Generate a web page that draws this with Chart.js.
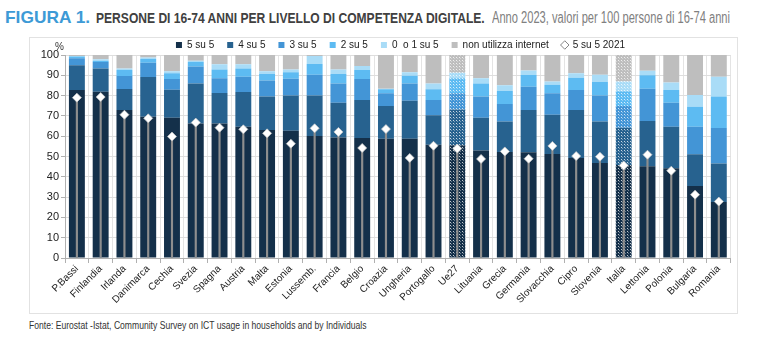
<!DOCTYPE html>
<html><head><meta charset="utf-8">
<script src="https://cdn.jsdelivr.net/npm/chart.js@4.4.1/dist/chart.umd.min.js"></script>
<style>
html,body{margin:0;padding:0;background:#fff;width:768px;height:340px;overflow:hidden;}
.t{position:absolute;top:9px;white-space:nowrap;line-height:18px;transform-origin:0 50%;font-family:"Liberation Sans",Arial,sans-serif;}
#fig{left:5px;color:#3d9ad6;font-weight:bold;font-size:17px;transform:scaleX(1.02);}
#main{left:96px;color:#404040;font-weight:bold;font-size:15px;transform:scaleX(0.805);}
#sub{left:492px;color:#808080;font-size:16px;transform:scaleX(0.695);}
#frame{position:absolute;left:29px;top:37px;width:707px;height:275px;border:1px solid #e2e2e2;}
#wrap{position:absolute;left:30px;top:27px;width:706px;height:285px;}
#pct{position:absolute;left:55px;top:41px;font-family:"Liberation Sans",Arial,sans-serif;font-size:10px;color:#333;}
#src{position:absolute;left:29px;top:319px;font-family:"Liberation Sans",Arial,sans-serif;font-size:11px;color:#333;white-space:nowrap;transform-origin:0 50%;transform:scaleX(0.78);}
</style></head>
<body>
<div class="t" id="fig">FIGURA 1.</div>
<div class="t" id="main">PERSONE DI 16-74 ANNI PER LIVELLO DI COMPETENZA DIGITALE.</div>
<div class="t" id="sub">Anno 2023, valori per 100 persone di 16-74 anni</div>
<div id="frame"></div>
<div id="wrap"><canvas id="c"></canvas></div>
<div id="pct">%</div>
<div id="src">Fonte: Eurostat -Istat, Community Survey on ICT usage in households and by Individuals</div>
<script>
const categories = ["P.Bassi","Finlandia","Irlanda","Danimarca","Cechia","Svezia","Spagna","Austria","Malta","Estonia","Lussemb.","Francia","Belgio","Croazia","Ungheria","Portogallo","Ue27","Lituania","Grecia","Germania","Slovacchia","Cipro","Slovenia","Italia","Lettonia","Polonia","Bulgaria","Romania"];
const su5_5 = [82.8,81.9,72.9,69.6,69.1,66.3,66.2,64.7,63.1,62.7,60.1,59.4,59.1,58.8,58.8,55.8,55.6,52.9,52.2,52.1,51.2,49.3,46.8,45.8,45.2,44.2,35.5,27.6];
const su5_4 = [12.1,11.4,10.4,19.6,13.8,19.7,15.1,17.1,16.5,17.4,20.0,17.1,18.7,16.1,18.7,14.5,17.6,16.2,15.1,20.8,19.4,23.6,20.5,18.4,22.3,20.5,15.6,18.9];
const su5_3 = [3.5,3.3,6.4,7.0,5.3,8.3,7.2,7.5,7.8,8.2,10.2,9.4,10.4,6.2,8.5,7.5,7.9,10.4,8.6,11.5,10.5,9.9,12.8,10.7,15.9,11.8,13.6,17.5];
const su5_2 = [0.8,0.6,2.9,1.8,2.8,2.3,4.4,4.1,3.2,3.2,5.3,4.7,4.4,2.0,3.8,5.3,7.4,6.4,6.4,5.7,4.3,6.0,6.6,7.2,6.6,6.3,9.8,15.5];
const su5_01 = [0.3,0.7,0.7,0.8,1.0,0.6,2.5,2.0,1.4,1.4,3.9,2.3,2.0,0.3,1.7,2.8,2.8,2.6,2.8,2.3,1.6,2.2,3.6,4.8,2.3,3.7,5.8,9.8];
const nonInternet = [0.5,2.1,6.7,1.2,8.0,2.8,4.6,4.6,8.0,7.1,0.5,7.1,5.4,16.6,8.5,14.1,8.7,11.5,14.9,7.6,13.0,9.0,9.7,13.1,7.7,13.5,19.7,10.7];
const su5_5_2021 = [79.0,79.3,70.6,68.8,59.8,66.7,64.2,63.4,61.4,56.3,63.9,62.1,54.2,63.5,49.3,55.3,53.9,48.8,52.5,48.9,55.2,50.2,49.9,45.6,50.9,43.0,31.2,27.8];
const patterned = ["Ue27","Italia"];
const yTicks = [0,10,20,30,40,50,60,70,80,90,100];

const FONT = '"Liberation Sans",Arial,sans-serif';

function makePattern(color){
  const c = document.createElement('canvas'); c.width = 3; c.height = 3;
  const x = c.getContext('2d');
  x.fillStyle = color; x.fillRect(0,0,3,3);
  x.fillStyle = 'rgba(255,255,255,0.75)'; x.fillRect(0,0,1,1);
  x.fillStyle = 'rgba(255,255,255,0.35)'; x.fillRect(1,1,1,1);
  return x.createPattern(c,'repeat');
}
function fills(color){
  const p = makePattern(color);
  return categories.map(c => patterned.includes(c) ? p : color);
}
function barDs(label, data, color){
  return {type:'bar', label, data, backgroundColor: fills(color), legendColor: color, borderWidth:0, stack:'s', order:3};
}
const datasets = [
  barDs('5 su 5', su5_5, '#14304a'),
  barDs('4 su 5', su5_4, '#27628f'),
  barDs('3 su 5', su5_3, '#4395d6'),
  barDs('2 su 5', su5_2, '#5dbbf2'),
  barDs('0  o 1 su 5', su5_01, '#a9dcf7'),
  barDs('non utilizza internet', nonInternet, '#bebebe'),
  {type:'line', label:'5 su 5 2021', data: su5_5_2021, showLine:false, stack:'m', order:1,
   pointStyle:'rectRot', pointRadius:4.5, pointHoverRadius:4.5, pointBackgroundColor:'#ffffff', pointBorderColor:'rgba(200,200,200,0.9)', pointBorderWidth:0.8},
  {type:'bar', label:'stem', data: su5_5_2021, stack:'stem', grouped:false, barThickness:1.5, backgroundColor:'#8e8e8e', borderWidth:0, order:2, isStem:true}
];

const legendShift = {
  id:'legendShift',
  afterLayout(chart){ if (chart.legend) { chart.legend.left += 40; } }
};

new Chart(document.getElementById('c'), {
  type:'bar',
  data:{labels:categories, datasets},
  plugins:[legendShift],
  options:{
    responsive:true, maintainAspectRatio:false, animation:false,
    layout:{padding:{left:0,right:5,top:0,bottom:0}},
    plugins:{
      tooltip:{enabled:false},
      legend:{position:'top', align:'center', maxHeight:28,
        labels:{font:{family:FONT,size:10}, color:'#222', boxWidth:6, boxHeight:6, padding:13, usePointStyle:true,
          filter(it, data){ return !data.datasets[it.datasetIndex].isStem; },
          sort(a,b){ return a.datasetIndex - b.datasetIndex; },
          generateLabels(chart){
            const items = Chart.defaults.plugins.legend.labels.generateLabels(chart);
            items.forEach(it=>{
              const ds = chart.data.datasets[it.datasetIndex];
              if (ds.type === 'line'){ it.pointStyle='rectRot'; it.fillStyle='#fff'; it.strokeStyle='#666'; it.lineWidth=0.8; }
              else { it.pointStyle='rect'; it.fillStyle=ds.legendColor; it.strokeStyle=ds.legendColor; it.lineWidth=0; }
            });
            return items;
          }}}
    },
    scales:{
      x:{stacked:true, offset:true,
        grid:{display:true, offset:true, color:'#e4e4e4', tickColor:'#b0b0b0', tickLength:5, drawOnChartArea:true},
        border:{color:'#b0b0b0'},
        ticks:{font:{family:FONT,size:10}, color:'#222', minRotation:45, maxRotation:45, padding:0, autoSkip:false},
        afterFit(s){ s.height = 54; }
      },
      y:{stacked:true, min:0, max:100, afterBuildTicks(s){ s.ticks = yTicks.map(v=>({value:v})); },
        grid:{color:'#dedede', tickColor:'#b0b0b0', tickLength:4},
        border:{color:'#b0b0b0'},
        ticks:{font:{family:FONT,size:11}, color:'#222', padding:2},
        afterFit(s){ s.width = 35; }
      }
    },
    datasets:{bar:{categoryPercentage:1, barPercentage:0.67}}
  }
});
</script>
</body></html>
